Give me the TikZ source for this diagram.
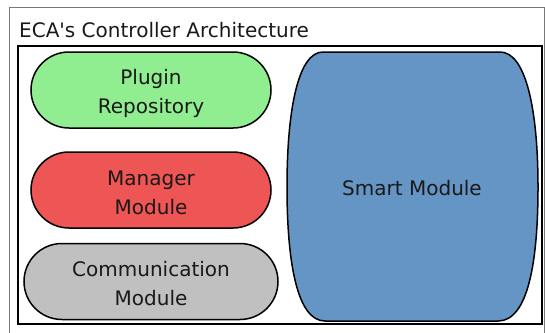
\documentclass[tikz,border=0pt]{standalone}
\usepackage{fontspec}
\setmainfont{DejaVu Sans}
\definecolor{plugfill}{RGB}{144,238,144}
\definecolor{mgrfill}{RGB}{238,85,85}
\definecolor{commfill}{RGB}{192,192,192}
\definecolor{smartfill}{RGB}{101,149,197}
\definecolor{framegrey}{RGB}{120,120,120}
\definecolor{ink}{RGB}{25,25,25}
\tikzset{
  modbox/.style={draw=black, line width=1.5pt, rounded corners=38pt,
    minimum width=240pt, minimum height=76pt, inner sep=0pt},
  lbl/.style={text=ink, font=\fontsize{20pt}{29pt}\selectfont, inner sep=0pt, align=center}
}
\begin{document}
\begin{tikzpicture}[x=1pt, y=-1pt]
  \useasboundingbox (0,0) rectangle (545,332);
  % outer grey frame
  \begin{scope}
    \clip (0,0) rectangle (545,332);
    \draw[framegrey, line width=0.8pt] (9,340) -- (9,7) -- (544.5,7) -- (544.5,340);
  \end{scope}
  \node[lbl, anchor=base west] (title) at (19,37) {ECA\textquotesingle s Controller Architecture};
  % inner container
  \draw[black, line width=2pt] (18,46) rectangle (541.5,324);
  % left column modules
  \node[modbox, fill=plugfill] (plugin) at (151,90) {};
  \node[modbox, fill=mgrfill] (manager) at (151,190) {};
  \node[modbox, fill=commfill, minimum width=254pt] (comm) at (151,281.5) {};
  \node[lbl] (plugintxt) at ([yshift=-3.5pt]plugin.center) {Plugin\\Repository};
  \node[lbl] (managertxt) at ([yshift=-3pt]manager.center) {Manager\\Module};
  \node[lbl] (commtxt) at ([yshift=-2.5pt]comm.center) {Communication\\Module};
  % smart module: flat top and bottom, bulging sides
  \draw[black, line width=1.5pt, fill=smartfill]
    (323,52) -- (500,52)
    .. controls (526,52) and (538,110) .. (538,187)
    .. controls (538,262) and (528,321) .. (498,321)
    -- (325,321)
    .. controls (297,321) and (287,262) .. (287,187)
    .. controls (287,110) and (298,52) .. (323,52) -- cycle;
  \node[lbl, anchor=base] (smart) at (412,195) {Smart Module};
\end{tikzpicture}
\end{document}
